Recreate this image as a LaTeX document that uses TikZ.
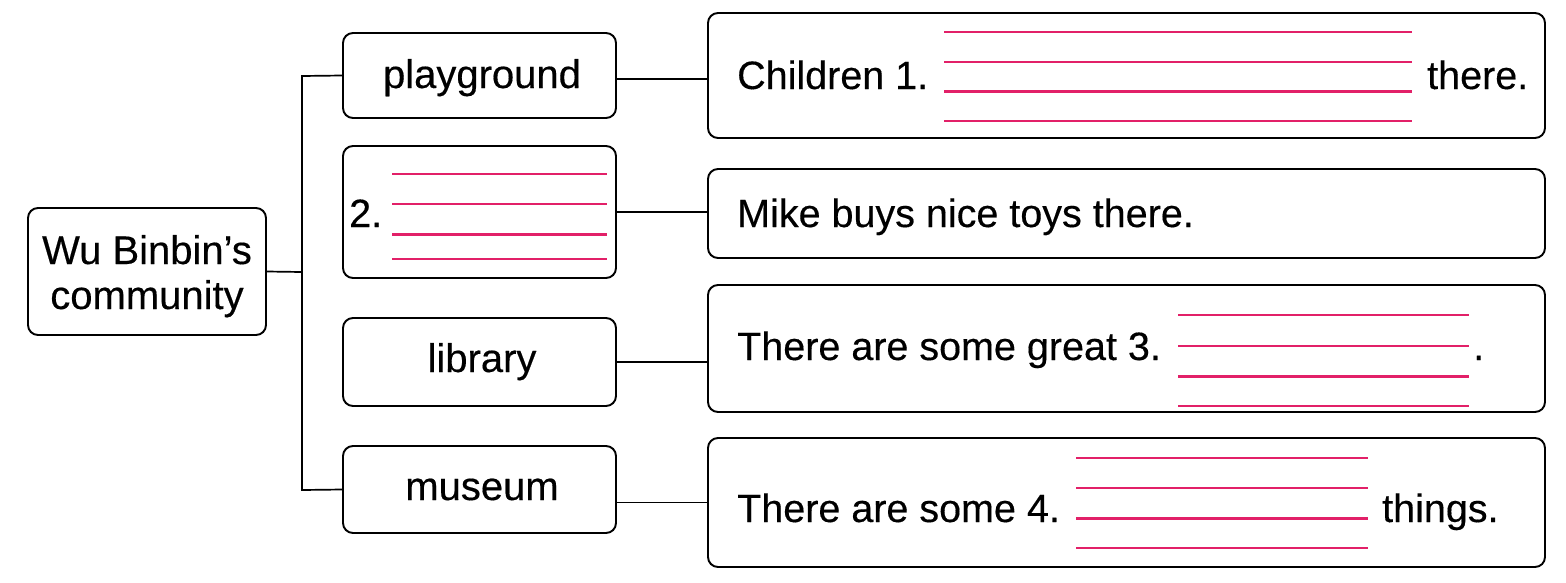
\documentclass[tikz,border=0pt]{standalone}
\usepackage{fontspec}
\setmainfont{Liberation Sans}[FakeBold=0.35]
\usetikzlibrary{calc}
\definecolor{blank}{RGB}{226,32,104}
\begin{document}
\begin{tikzpicture}[x=1pt,y=-1pt,
  box/.style={draw=black,line width=1.9pt,rounded corners=10pt,inner sep=0pt},
  txt/.style={inner sep=0pt,anchor=base west,font=\fontsize{39.5}{45}\selectfont},
  ctxt/.style={inner sep=0pt,anchor=base,font=\fontsize{40}{45}\selectfont},
  conn/.style={line width=1.7pt,black},
  wline/.style={draw=blank,line width=2.4pt},
  wlinek/.style={draw=blank,line width=3pt}]
\useasboundingbox (0,0) rectangle (1566,582);
% boxes
\node[box,minimum width=238pt,minimum height=127pt] (root) at (147,271.5) {};
\node[box,minimum width=273pt,minimum height=85pt] (m1) at (479.5,75.5) {};
\node[box,minimum width=273pt,minimum height=132pt] (m2) at (479.5,212) {};
\node[box,minimum width=273pt,minimum height=88pt] (m3) at (479.5,362) {};
\node[box,minimum width=273pt,minimum height=87pt] (m4) at (479.5,489.5) {};
\node[box,minimum width=837pt,minimum height=125pt] (r1) at (1126.5,75.5) {};
\node[box,minimum width=837pt,minimum height=89pt] (r2) at (1126.5,213.5) {};
\node[box,minimum width=837pt,minimum height=127pt] (r3) at (1126.5,348.5) {};
\node[box,minimum width=837pt,minimum height=129pt] (r4) at (1126.5,502.5) {};
% texts
\node[ctxt] (rootA) at (147,264) {Wu Binbin’s};
\node[ctxt] (rootB) at (147,309) {community};
\node[ctxt] (t1) at (482,88) {playground};
\node[txt] (t2) at (349,227) {2.};
\node[ctxt] (t3) at (482,372) {library};
\node[ctxt] (t4) at (482,500) {museum};
\node[txt] (s1a) at (737,89) {Children 1.};
\node[txt] (s1b) at (1427,89) {there.};
\node[txt] (s2) at (737,227) {Mike buys nice toys there.};
\node[txt] (s3a) at (737,360) {There are some great 3.};
\node[txt] (s3b) at (1473,360) {.};
\node[txt] (s4a) at (737,522) {There are some 4.};
\node[txt] (s4b) at (1382,522) {things.};
% blanks
\foreach \y in {32,62,121} \draw[wline] (944,\y) -- (1412,\y);
\draw[wlinek] (944,91) -- (1412,91);
\foreach \y in {174,204,259} \draw[wline] (392,\y) -- (607,\y);
\draw[wlinek] (392,234) -- (607,234);
\foreach \y in {315,346,406} \draw[wline] (1178,\y) -- (1469,\y);
\draw[wlinek] (1178,376) -- (1469,376);
\foreach \y in {458,488,548} \draw[wline] (1076,\y) -- (1368,\y);
\draw[wlinek] (1076,518) -- (1368,518);
% connectors
\coordinate (bt) at (302,76);
\coordinate (bb) at (302,490);
\coordinate (bj) at (302,272);
\draw[conn] (m1.west) -- (bt) -- (bb) -- (m4.west);
\draw[conn] (root.east) -- (bj);
\draw[conn] ($(m1.east)+(0,3.5)$) -- ($(r1.west)+(0,3.5)$);
\draw[conn] (m2.east) -- (m2.east -| r2.west);
\draw[conn] (m3.east) -- (m3.east -| r3.west);
\draw[conn] (r4.west -| m4.east) -- (r4.west);
\end{tikzpicture}
\end{document}
